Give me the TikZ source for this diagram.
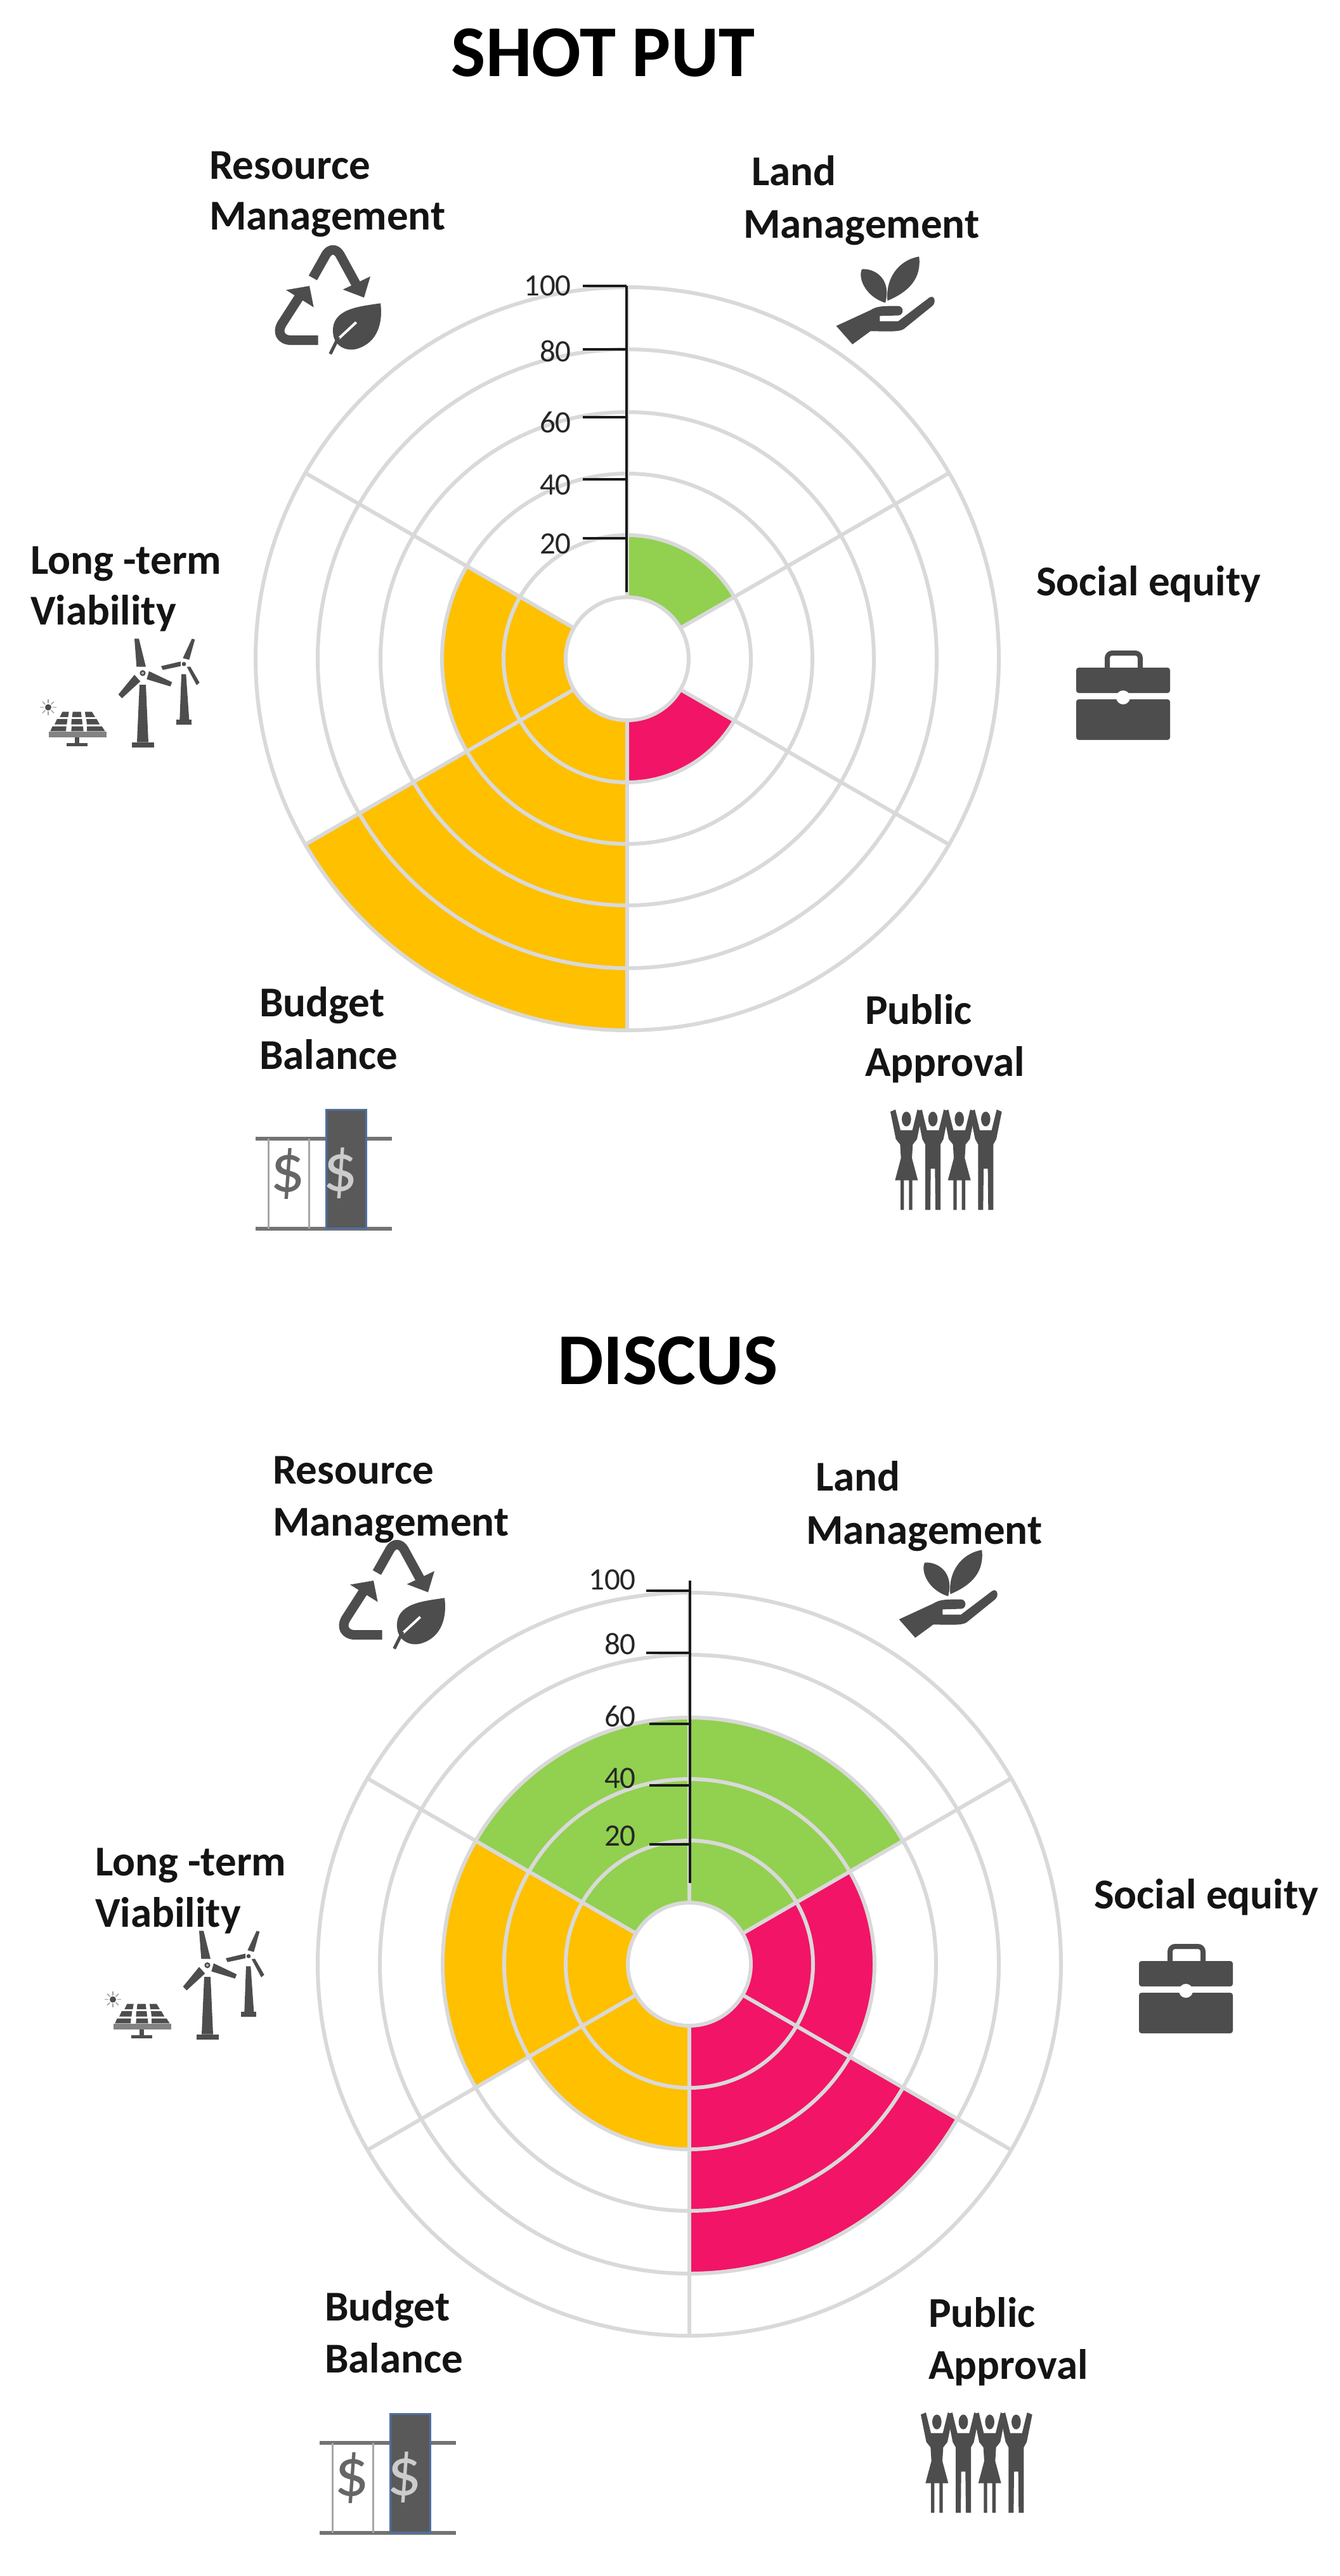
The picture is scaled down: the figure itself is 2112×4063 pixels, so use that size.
\documentclass[tikz,border=0pt]{standalone}
\usepackage{fontspec}
\setmainfont{Carlito}
\definecolor{ringgray}{HTML}{D9D9D9}
\definecolor{icongray}{HTML}{4D4D4D}
\definecolor{barfill}{HTML}{595959}
\definecolor{barblue}{HTML}{4F6F9F}
\definecolor{secgreen}{HTML}{92D050}
\definecolor{secred}{HTML}{F21466}
\definecolor{secorange}{HTML}{FFC000}
\definecolor{axisblack}{HTML}{1A1A1A}
\tikzset{
  titletext/.style={anchor=base,inner sep=0pt,font=\fontsize{115}{130}\selectfont\bfseries,text=black},
  labeltext/.style={anchor=base west,inner sep=0pt,font=\fontsize{67}{80}\selectfont\bfseries,text=black!92},
  ticktext/.style={anchor=base east,inner sep=0pt,font=\fontsize{49}{56}\selectfont,text=black!85},
  ringline/.style={draw=ringgray,line width=6pt},
  axisline/.style={draw=axisblack,line width=4pt},
  unit3/.style={x=.33333pt,y=-.33333pt},
  recyclepic/.pic={\begin{scope}[unit3]
    \draw[icongray,line width=15pt,line join=round] (430,625) -- (492,515) .. controls (510,485) and (540,485) .. (558,515) -- (640,665);
    \fill[icongray] (702,618) -- (672,718) -- (572,680) -- cycle;
    \draw[icongray,line width=15pt,line join=round] (455,920) -- (330,920) .. controls (275,920) and (262,880) .. (282,845) -- (372,705);
    \fill[icongray] (303,682) -- (414,663) -- (434,764) -- cycle;
    \fill[icongray] (750,745) .. controls (650,760) and (520,770) .. (525,880) .. controls (528,950) and (590,975) .. (640,960) .. controls (740,930) and (762,830) .. (750,745) -- cycle;
    \draw[white,line width=4pt] (635,835) -- (552,912);
    \draw[icongray,line width=5pt] (552,905) -- (512,985);
  \end{scope}},
  handpic/.pic={\begin{scope}[x=.6734pt,y=-.8292pt]
    \fill[icongray] (390,620) -- (470,590) .. controls (485,582) and (500,582) .. (535,582)
      .. controls (550,583) and (548,600) .. (535,600) -- (492,601) -- (492,611) -- (535,611) -- (608,566)
      .. controls (620,560) and (625,575) .. (615,582) -- (548,626) .. controls (535,632) and (510,630) .. (470,630) -- (428,655) -- cycle;
    \fill[icongray] (505,576) .. controls (460,565) and (440,530) .. (450,512) .. controls (480,510) and (520,530) .. (505,576) -- cycle;
    \fill[icongray] (510,572) .. controls (505,530) and (535,495) .. (584,488) .. controls (590,530) and (560,555) .. (510,572) -- cycle;
  \end{scope}},
  casepic/.pic={\begin{scope}[x=1pt,y=-1pt]
    \fill[icongray,rounded corners=4pt] (0,29) rectangle (148,69);
    \fill[icongray,rounded corners=4pt] (0,79) rectangle (148,143);
    \draw[icongray,line width=8pt,rounded corners=8pt] (49,29) -- (49,6) -- (101,6) -- (101,29);
    \fill[white] (74,76) circle[radius=11];
  \end{scope}},
  windpic/.pic={\begin{scope}[unit3]
    \fill[icongray] (570,390) -- (600,390) -- (612,662) -- (558,662) -- cycle;
    \fill[icongray] (535,662) rectangle (640,688);
    \fill[icongray] (546,172) -- (567,172) -- (600,305) -- (556,305) -- cycle;
    \fill[icongray] (615,326) -- (724,378) -- (716,398) -- (604,364) -- cycle;
    \fill[icongray] (546,343) -- (574,374) -- (487,454) -- (470,436) -- cycle;
    \fill[icongray] (585,335) circle[radius=14];
    \fill[white!60!icongray] (585,335) circle[radius=6];
    \fill[icongray] (768,340) -- (790,340) -- (805,556) -- (760,556) -- cycle;
    \fill[icongray] (745,556) rectangle (815,578);
    \fill[icongray] (818,172) -- (832,176) -- (805,272) -- (775,264) -- cycle;
    \fill[icongray] (672,302) -- (765,280) -- (765,302) -- (680,320) -- cycle;
    \fill[icongray] (794,306) -- (810,304) -- (854,380) -- (840,392) -- cycle;
    \fill[icongray] (780,292) circle[radius=10];
    \fill[icongray] (138,497) circle[radius=15];
    \foreach \a in {0,45,...,315}{\draw[icongray!55,line width=1.5pt] (138,497) ++(\a:20) -- ++(\a:18);}
    \fill[icongray] (193,543) -- (205,518) -- (236,518) -- (232,543) -- cycle;
    \fill[icongray] (251,543) -- (254,518) -- (293,518) -- (296,543) -- cycle;
    \fill[icongray] (315,543) -- (312,518) -- (345,518) -- (360,543) -- cycle;
    \fill[icongray] (168,578) -- (180,552) -- (229,552) -- (226,578) -- cycle;
    \fill[icongray] (247,578) -- (249,552) -- (298,552) -- (300,578) -- cycle;
    \fill[icongray] (321,578) -- (318,552) -- (367,552) -- (382,578) -- cycle;
    \fill[icongray] (148,610) -- (158,587) -- (224,587) -- (222,610) -- cycle;
    \fill[icongray] (247,610) -- (249,587) -- (303,587) -- (305,610) -- cycle;
    \fill[icongray] (321,610) -- (321,587) -- (392,587) -- (407,610) -- cycle;
    \fill[icongray!70] (140,612) rectangle (415,640);
    \fill[icongray] (265,640) rectangle (285,665);
    \fill[icongray] (225,665) rectangle (325,680);
  \end{scope}},
  budgetpic/.pic={\begin{scope}[unit3]
    \draw[black!55,line width=6pt] (130,288) -- (775,288);
    \draw[black!55,line width=6pt] (130,715) -- (775,715);
    \draw[black!35,line width=3.5pt] (190,288) -- (190,715);
    \draw[black!35,line width=3.5pt] (382,288) -- (382,715);
    \node[inner sep=0pt,text=black!60,font=\fontsize{108}{108}\selectfont] (dl) at (282,455) {\$};
    \fill[barfill,draw=barblue,line width=3pt] (462,150) rectangle (652,712);
    \node[inner sep=0pt,text=black!20,font=\fontsize{108}{108}\selectfont] (dr) at (532,450) {\$};
  \end{scope}},
  woman/.pic={
    \fill[icongray] (-76,160) -- (-52,150) -- (-28,248) -- (28,248) -- (52,150) -- (76,160) -- (50,290) -- (30,315) -- (26,380) -- (54,485) -- (28,485) -- (28,625) -- (12,625) -- (12,485) -- (-12,485) -- (-12,625) -- (-28,625) -- (-28,485) -- (-54,485) -- (-26,380) -- (-30,315) -- (-50,290) -- cycle;
    \fill[icongray] (0,195) ellipse[x radius=22,y radius=35];
  },
  manfig/.pic={
    \fill[icongray] (-76,160) -- (-52,150) -- (-28,248) -- (28,248) -- (52,150) -- (76,160) -- (50,290) -- (36,315) -- (36,625) -- (12,625) -- (10,430) -- (-10,430) -- (-12,625) -- (-36,625) -- (-36,315) -- (-50,290) -- cycle;
    \fill[icongray] (0,195) ellipse[x radius=22,y radius=35];
  },
  peoplepic/.pic={\begin{scope}[unit3]
    \pic at (268,0) {woman};
    \pic at (393,0) {manfig};
    \pic at (518,0) {woman};
    \pic at (643,0) {manfig};
  \end{scope}},
}
\newcommand{\chartframe}[8]{%
  % #1 cx, #2 cy, then outer radii of six sectors 30-90, -30-30, -90- -30, -150- -90, 150-210, 90-150
  \begin{scope}[shift={(#1,#2)},x=1pt,y=1pt]
    \ifdim#3pt>0pt \fill[secgreen] (0,0) -- (30:#3) arc[start angle=30,end angle=90,radius=#3] -- cycle;\fi
    \ifdim#4pt>0pt \fill[secred] (0,0) -- (-30:#4) arc[start angle=-30,end angle=30,radius=#4] -- cycle;\fi
    \ifdim#5pt>0pt \fill[secred] (0,0) -- (-90:#5) arc[start angle=-90,end angle=-30,radius=#5] -- cycle;\fi
    \ifdim#6pt>0pt \fill[secorange] (0,0) -- (-150:#6) arc[start angle=-150,end angle=-90,radius=#6] -- cycle;\fi
    \ifdim#7pt>0pt \fill[secorange] (0,0) -- (150:#7) arc[start angle=150,end angle=210,radius=#7] -- cycle;\fi
    \ifdim#8pt>0pt \fill[secgreen] (0,0) -- (90:#8) arc[start angle=90,end angle=150,radius=#8] -- cycle;\fi
    \fill[white] (0,0) circle[radius=97];
    \foreach \rr in {97,195,292,389,488,586}{\draw[ringline] (0,0) circle[radius=\rr];}
    \foreach \a in {30,90,150,210,270,330}{\draw[ringline] (\a:97) -- (\a:586);}
  \end{scope}}
\begin{document}
\begin{tikzpicture}[x=1pt,y=-1pt]
\useasboundingbox (0,0) rectangle (2112,4063);
\fill[white] (0,0) rectangle (2112,4063);
% ---------- SHOT PUT
\node[titletext] (title1) at (951,120) {SHOT PUT};
\chartframe{989}{1039}{195}{0}{195}{586}{292}{0}
\draw[axisline] (988,451) -- (988,934);
\foreach \ty in {451,551,658,756,849}{\draw[axisline] (919,\ty) -- (988,\ty);}
\node[ticktext] (t1a) at (901,466) {100};
\node[ticktext] (t1b) at (901,570) {80};
\node[ticktext] (t1c) at (901,682) {60};
\node[ticktext] (t1d) at (901,780) {40};
\node[ticktext] (t1e) at (901,873) {20};
\node[labeltext] (r1a) at (330,282) {Resource};
\node[labeltext] (r1b) at (330,362) {Management};
\node[labeltext] (l1a) at (1185,292) {Land};
\node[labeltext] (l1b) at (1172,375) {Management};
\node[labeltext] (s1) at (1634,939) {Social equity};
\node[labeltext] (v1a) at (48,905) {Long -term};
\node[labeltext] (v1b) at (48,985) {Viability};
\node[labeltext] (b1a) at (409,1603) {Budget};
\node[labeltext] (b1b) at (409,1686) {Balance};
\node[labeltext] (p1a) at (1364,1615) {Public};
\node[labeltext] (p1b) at (1364,1697) {Approval};
\pic (ic1r) at (350,230) {recyclepic};
\pic (ic1h) at (1056,0) {handpic};
\pic (ic1c) at (1697,1024) {casepic};
\pic (ic1w) at (30,950) {windpic};
\pic (ic1b) at (360,1700) {budgetpic};
\pic (ic1p) at (1340,1700) {peoplepic};
% ---------- DISCUS
\node[titletext] (title2) at (1053,2183) {DISCUS};
\chartframe{1087}{3098}{388}{291}{486}{291}{388}{388}
\draw[axisline] (1088,2493) -- (1088,2970);
\draw[axisline] (1019,2509) -- (1088,2509);
\draw[axisline] (1019,2607) -- (1088,2607);
\draw[axisline] (1024,2719) -- (1088,2719);
\draw[axisline] (1024,2816) -- (1088,2816);
\draw[axisline] (1024,2909) -- (1088,2909);
\node[ticktext] (t2a) at (1003,2507) {100};
\node[ticktext] (t2b) at (1003,2609) {80};
\node[ticktext] (t2c) at (1003,2723) {60};
\node[ticktext] (t2d) at (1003,2820) {40};
\node[ticktext] (t2e) at (1003,2911) {20};
\node[labeltext] (r2a) at (430,2340) {Resource};
\node[labeltext] (r2b) at (430,2422) {Management};
\node[labeltext] (l2a) at (1286,2351) {Land};
\node[labeltext] (l2b) at (1271,2435) {Management};
\node[labeltext] (s2) at (1725,3010) {Social equity};
\node[labeltext] (v2a) at (150,2958) {Long -term};
\node[labeltext] (v2b) at (150,3039) {Viability};
\node[labeltext] (b2a) at (512,3660) {Budget};
\node[labeltext] (b2b) at (512,3742) {Balance};
\node[labeltext] (p2a) at (1464,3670) {Public};
\node[labeltext] (p2b) at (1464,3752) {Approval};
\pic (ic2r) at (451,2272) {recyclepic};
\pic (ic2h) at (1155,2040) {handpic};
\pic (ic2c) at (1796,3064) {casepic};
\pic (ic2w) at (132,2988) {windpic};
\pic (ic2b) at (461,3757) {budgetpic};
\pic (ic2p) at (1388,3755) {peoplepic};
\end{tikzpicture}
\end{document}
